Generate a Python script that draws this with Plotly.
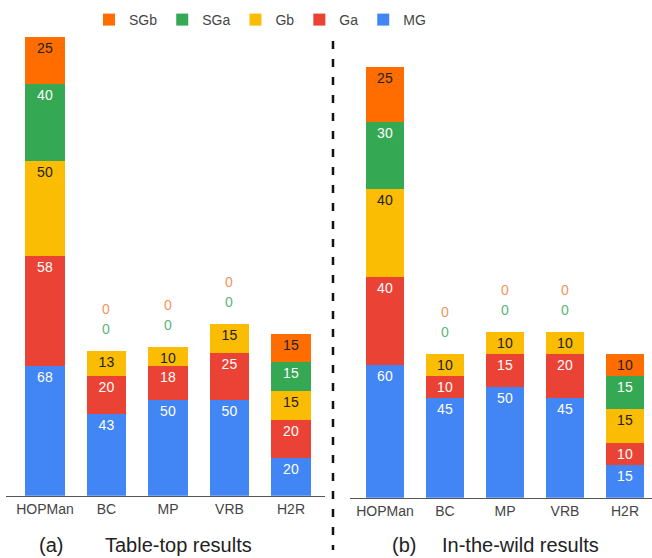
import plotly.graph_objects as go

categories = ["HOPMan", "BC", "MP", "VRB", "H2R"]
series_names = ["MG", "Ga", "Gb", "SGa", "SGb"]
series_colors = ["#4285F4", "#EA4335", "#FBBC04", "#34A853", "#FF6D01"]
label_colors = ["#FFFFFF", "#FFFFFF", "#222222", "#FFFFFF", "#222222"]
zero_label_colors = ["#6FA0F0", "#EE7A6E", "#F2C24A", "#5DB37E", "#F7945A"]

# (a) Table-top results
tabletop_MG = [68, 43, 50, 50, 20]
tabletop_Ga = [58, 20, 18, 25, 20]
tabletop_Gb = [50, 13, 10, 15, 15]
tabletop_SGa = [40, 0, 0, 0, 15]
tabletop_SGb = [25, 0, 0, 0, 15]

# (b) In-the-wild results
wild_MG = [60, 45, 50, 45, 15]
wild_Ga = [40, 10, 15, 20, 10]
wild_Gb = [40, 10, 10, 10, 15]
wild_SGa = [30, 0, 0, 0, 15]
wild_SGb = [25, 0, 0, 0, 10]

panel_titles = [("(a)", "Table-top results"), ("(b)", "In-the-wild results")]

panels = [
    [tabletop_MG, tabletop_Ga, tabletop_Gb, tabletop_SGa, tabletop_SGb],
    [wild_MG, wild_Ga, wild_Gb, wild_SGa, wild_SGb],
]

W, H = 652, 558
FONT = "Liberation Sans, Arial, sans-serif"

def px_x(v):
    return v / W

def px_y(v):
    return 1 - v / H

fig = go.Figure()
annotations = []

axis_ids = [("x", "y"), ("x2", "y2")]
for p, data in enumerate(panels):
    xa, ya = axis_ids[p]
    for i, (name, vals) in enumerate(zip(series_names, data)):
        fig.add_trace(go.Bar(
            x=categories, y=vals, name=name,
            xaxis=xa, yaxis=ya,
            marker=dict(color=series_colors[i], line=dict(width=0)),
            width=0.64,
            text=[str(v) if v != 0 else "" for v in vals],
            textposition="inside",
            insidetextanchor="end",
            constraintext="none",
            textangle=0,
            insidetextfont=dict(color=label_colors[i], size=14, family=FONT),
            legendgroup=name,
            showlegend=(p == 0),
            hoverinfo="skip",
        ))
    # labels for zero-valued segments, stacked above each bar
    for c, cat in enumerate(categories):
        total = sum(d[c] for d in data)
        k = 0
        for i, vals in enumerate(data):
            if vals[c] == 0:
                annotations.append(dict(
                    x=cat, y=total, xref=xa, yref=ya,
                    text="0", showarrow=False,
                    yshift=22 + 20 * k, yanchor="middle",
                    font=dict(color=zero_label_colors[i], size=14, family=FONT),
                ))
                k += 1

# panel captions
caption_pos = [(37, 103), (390, 440)]
for (lab, title), (x1, x2) in zip(panel_titles, caption_pos):
    annotations.append(dict(x=px_x(x1), y=px_y(545), xref="paper", yref="paper",
                            text=lab, showarrow=False, xanchor="left", yanchor="middle",
                            font=dict(size=20, color="#222222", family=FONT)))
    annotations.append(dict(x=px_x(x2), y=px_y(545), xref="paper", yref="paper",
                            text=title, showarrow=False, xanchor="left", yanchor="middle",
                            font=dict(size=20, color="#222222", family=FONT)))

common_x = dict(type="category", showline=True, linecolor="#555555", linewidth=1,
                showgrid=False, zeroline=False, ticks="",
                tickfont=dict(size=14, color="#444444", family=FONT), fixedrange=True)
common_y = dict(showticklabels=False, showgrid=False, zeroline=False, showline=False,
                ticks="", fixedrange=True)

fig.update_layout(
    width=W, height=H,
    margin=dict(l=0, r=0, t=0, b=0),
    paper_bgcolor="white", plot_bgcolor="white",
    barmode="stack",
    font=dict(family=FONT),
    xaxis=dict(common_x, domain=[px_x(6), px_x(325)], range=[-0.634, 4.553], anchor="y"),
    yaxis=dict(common_y, domain=[px_y(495.7), px_y(20)], range=[0, 249.8], anchor="x"),
    xaxis2=dict(common_x, domain=[px_x(350), 1.0], range=[-0.583, 4.45], anchor="y2"),
    yaxis2=dict(common_y, domain=[px_y(497.7), px_y(20)], range=[0, 216.4], anchor="x2"),
    legend=dict(orientation="h", traceorder="reversed", x=px_x(89), y=px_y(20),
                xanchor="left", yanchor="middle",
                font=dict(size=14, color="#444444", family=FONT),
                bgcolor="rgba(0,0,0,0)"),
    annotations=annotations,
    shapes=[dict(type="line", xref="paper", yref="paper",
                 x0=px_x(333), x1=px_x(333), y0=px_y(41), y1=px_y(550),
                 line=dict(color="#111111", width=2.5, dash="8px,10px"))],
)

fig.write_html("out.html",
               config={"displayModeBar": False},
               post_script="document.body.style.margin='0';document.body.style.overflow='hidden';")
